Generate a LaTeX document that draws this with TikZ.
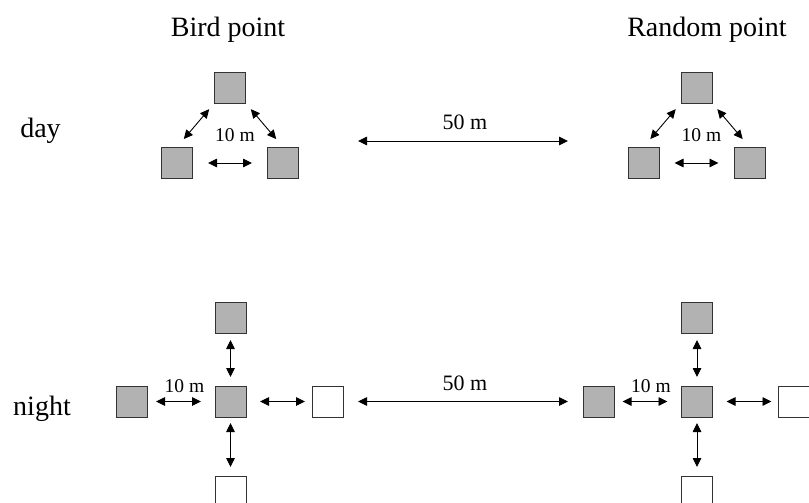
\documentclass[tikz,border=0pt]{standalone}
\usepackage{fontspec}
\setmainfont{Liberation Serif}
\usetikzlibrary{arrows.meta}
\tikzset{
  trap/.style={draw=black!80, line width=0.9pt, fill=black!30, minimum size=31pt, inner sep=0pt},
  freetrap/.style={trap, fill=white},
  dist/.style={{Triangle[length=9pt,width=8.5pt]}-{Triangle[length=9pt,width=8.5pt]}, line width=0.9pt},
  heading/.style={font=\fontsize{28}{34}\selectfont, anchor=base},
  metres/.style={font=\fontsize{19.5}{23}\selectfont, anchor=base},
  farmetres/.style={font=\fontsize{22}{26}\selectfont, anchor=base}
}
\begin{document}
\begin{tikzpicture}[x=1pt,y=-1pt]
\useasboundingbox (0,0) rectangle (809,503);
\clip (0,0) rectangle (809,503);
\node[heading] (bird) at (228,37) {Bird point};
\node[heading] (random) at (707,37) {Random point};
\node[heading] (day) at (40.5,137) {day};
\node[heading] (night) at (42,415) {night};

\node[trap] (bdt) at (230,87.5) {};
\node[trap] (bdl) at (177,163) {};
\node[trap] (bdr) at (283,163) {};
\draw[dist, shorten <=7.5pt, shorten >=10.5pt] (bdt.south west) -- (bdl.north);
\draw[dist, shorten <=7.5pt, shorten >=10.5pt] (bdt.south east) -- (bdr.north);
\draw[dist, shorten <=31pt, shorten >=31pt] (bdl.center) -- (bdr.center);
\node[metres] (bdm) at (235,141) {10 m};

\node[trap] (rdt) at (696.5,87.5) {};
\node[trap] (rdl) at (643.5,163) {};
\node[trap] (rdr) at (749.5,163) {};
\draw[dist, shorten <=7.5pt, shorten >=10.5pt] (rdt.south west) -- (rdl.north);
\draw[dist, shorten <=7.5pt, shorten >=10.5pt] (rdt.south east) -- (rdr.north);
\draw[dist, shorten <=31pt, shorten >=31pt] (rdl.center) -- (rdr.center);
\node[metres] (rdm) at (701.5,141) {10 m};

\coordinate (dayl) at (358,141);
\coordinate (dayr) at (568,141);
\draw[dist] (dayl) -- (dayr);
\node[farmetres] (daym) at (465,129) {50 m};

\node[trap] (bnc) at (230.5,401.5) {};
\node[trap] (bnl) at (132,401.5) {};
\node[freetrap] (bnr) at (327.5,401.5) {};
\node[trap] (bnt) at (230.5,317.5) {};
\node[freetrap] (bnb) at (230.5,491.5) {};
\draw[dist, shorten <=24pt, shorten >=29.5pt] (bnl.center) -- (bnc.center);
\draw[dist, shorten <=29.5pt, shorten >=22.5pt] (bnc.center) -- (bnr.center);
\draw[dist, shorten <=22.5pt, shorten >=24.5pt] (bnt.center) -- (bnc.center);
\draw[dist, shorten <=21.5pt, shorten >=24.5pt] (bnc.center) -- (bnb.center);
\node[metres] (bnm) at (184.5,392) {10 m};

\node[trap] (rnc) at (697,401.5) {};
\node[trap] (rnl) at (598.5,401.5) {};
\node[freetrap] (rnr) at (794,401.5) {};
\node[trap] (rnt) at (697,317.5) {};
\node[freetrap] (rnb) at (697,491.5) {};
\draw[dist, shorten <=24pt, shorten >=29.5pt] (rnl.center) -- (rnc.center);
\draw[dist, shorten <=29.5pt, shorten >=22.5pt] (rnc.center) -- (rnr.center);
\draw[dist, shorten <=22.5pt, shorten >=24.5pt] (rnt.center) -- (rnc.center);
\draw[dist, shorten <=21.5pt, shorten >=24.5pt] (rnc.center) -- (rnb.center);
\node[metres] (rnm) at (651,392) {10 m};

\draw[dist, shorten <=30.5pt, shorten >=30.5pt] (bnr.center) -- (rnl.center);
\node[farmetres] (nightm) at (465,390) {50 m};
\end{tikzpicture}
\end{document}
